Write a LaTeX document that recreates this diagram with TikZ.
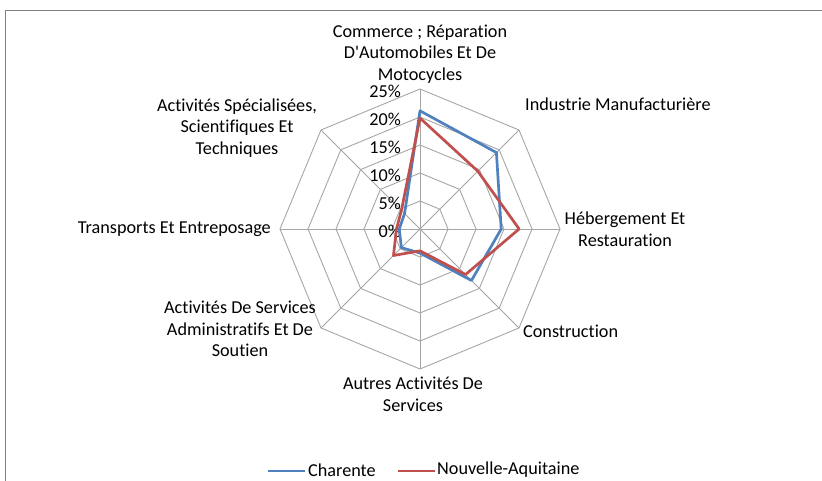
\documentclass[tikz,border=0pt]{standalone}
\usepackage{fontspec}
\setmainfont{Carlito}[Ligatures=NoCommon]
\usepackage{xcolor}

\definecolor{charente}{HTML}{4F81BD}
\definecolor{naq}{HTML}{C0504D}
\definecolor{gridgray}{HTML}{A6A6A6}

\begin{document}
\begin{tikzpicture}[x=1pt, y=1pt, font=\fontsize{18.2}{21.7}\selectfont,
	grid/.style={draw=gridgray, line width=0.9pt},
	serie/.style={line width=2.7pt, line join=round},
	label/.style={inner sep=0pt, align=center}]
	\useasboundingbox (0,0) rectangle (822,481);

	% Chart area frame
	\draw[gray, line width=1pt] (5,0) -- (5,470) -- (822,470);

	\begin{scope}[shift={(420,252)}]
		% Draw the rings and the spokes
		\foreach \r in {1,...,5}
			\draw[grid] (90:\r*28) -- (45:\r*28) -- (0:\r*28) -- (-45:\r*28)
				-- (-90:\r*28) -- (-135:\r*28) -- (180:\r*28) -- (135:\r*28) -- cycle;
		\foreach \a in {0,45,...,315}
			\draw[grid] (0,0) -- (\a:140);

		% Scale labels
		\foreach \k in {0,...,5}
			\node[inner sep=0pt, anchor=east] (t\k) at (-19, \k*28-2) {\the\numexpr\k*5\relax\%};

		% Category labels
		\node[label] (commerce) at (0, 175) {Commerce ; Réparation\\D\textquotesingle Automobiles Et De\\Motocycles};
		\node[label, anchor=west] (industrie) at (105, 125) {Industrie Manufacturière};
		\node[label] (hebergement) at (205, 0) {Hébergement Et\\Restauration};
		\node[label, anchor=west] (construction) at (103, -102) {Construction};
		\node[label] (autres) at (-7, -165.5) {Autres Activités De\\Services};
		\node[label] (admin) at (-180, -100) {Activités De Services\\Administratifs Et De\\Soutien};
		\node[label, anchor=east] (transports) at (-149, 0) {Transports Et Entreposage};
		\node[label] (specialisees) at (-183, 101) {Activités Spécialisées,\\Scientifiques Et\\Techniques};

		% Data points, in percent, clockwise from the top
		\foreach \v [count=\i] in {21.1, 19.3, 14.5, 13.0, 4.3, 4.7, 3.7, 3.9}
			\coordinate (c\i) at ({135-45*\i}:\v*5.6);
		\foreach \v [count=\i] in {19.8, 14.6, 17.7, 11.5, 3.9, 6.7, 4.2, 4.7}
			\coordinate (n\i) at ({135-45*\i}:\v*5.6);

		\draw[serie, charente] (c1) -- (c2) -- (c3) -- (c4) -- (c5) -- (c6) -- (c7) -- (c8) -- cycle;
		\draw[serie, naq] (n1) -- (n2) -- (n3) -- (n4) -- (n5) -- (n6) -- (n7) -- (n8) -- cycle;
	\end{scope}

	% Legend
	\coordinate (lc1) at (268, 10);
	\coordinate (lc2) at (305, 10);
	\coordinate (ln1) at (398, 10);
	\coordinate (ln2) at (435, 10);
	\draw[serie, charente] (lc1) -- (lc2);
	\draw[serie, naq] (ln1) -- (ln2);
	\node[label, anchor=west] (charente) at (308, 11) {Charente};
	\node[label, anchor=west] (nouvelle) at (437, 11) {Nouvelle-Aquitaine};
\end{tikzpicture}
\end{document}
